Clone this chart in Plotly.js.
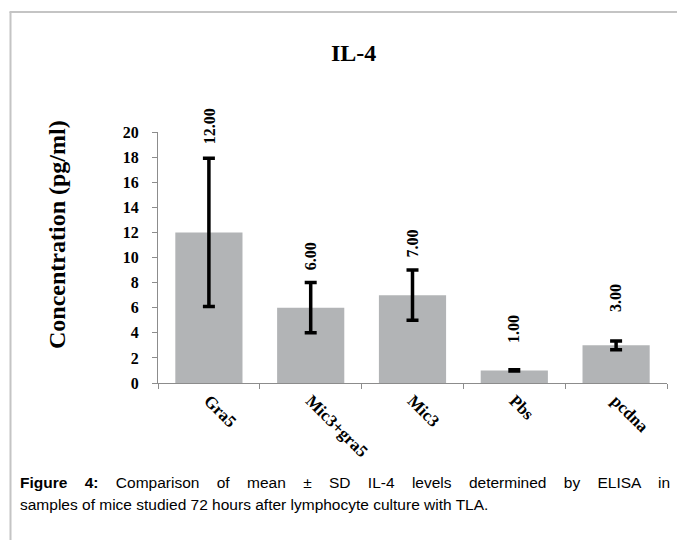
<!DOCTYPE html>
<html>
<head>
<meta charset="utf-8">
<script src="https://cdn.plot.ly/plotly-3.0.1.min.js"></script>
<style>
html,body{margin:0;padding:0;background:#fff;}
#chart{width:677px;height:540px;}
</style>
</head>
<body>
<div id="chart"></div>
<script>
// ---- data ----
const categories = ["Gra5", "Mic3+gra5", "Mic3", "Pbs", "pcdna"];
const meanValues = [12, 6, 7, 1, 3];
const sdValues = [5.9, 2, 2, 0.05, 0.35];
const valueLabels = ["12.00", "6.00", "7.00", "1.00", "3.00"];
const yTickValues = [0, 2, 4, 6, 8, 10, 12, 14, 16, 18, 20];
const chartTitle = "IL-4";
const yAxisTitle = "Concentration (pg/ml)";
const captionBold = "Figure 4:";
const captionLine1 = " Comparison of mean ± SD IL-4 levels determined by ELISA in";
const captionLine2 = "samples of mice studied 72 hours after lymphocyte culture with TLA.";

// ---- styling / layout (pixels) ----
const W = 677, H = 540;
const L = 158, R = 10, T = 132, B = 157;
const pw = W - L - R, ph = H - T - B;
const px = x => (x - L) / pw;          // page px -> paper x
const py = y => (H - B - y) / ph;      // page px -> paper y
const labelShift = [12, 10, 10, 25, 27];
const serif = "'Liberation Serif', 'Times New Roman', serif";
const sans = "'Liberation Sans', Arial, sans-serif";
const capLeft = 18, capRight = 668;

const trace = {
  type: "bar",
  x: categories,
  y: meanValues,
  marker: {color: "rgb(178,180,182)", line: {width: 0}},
  error_y: {type: "data", array: sdValues, visible: true, color: "#000", thickness: 3.5, width: 6},
  hoverinfo: "skip",
  width: 0.66
};

const annotations = categories.map((c, i) => ({
  x: c, y: meanValues[i] + sdValues[i], xref: "x", yref: "y",
  text: "<b>" + valueLabels[i] + "</b>", showarrow: false,
  textangle: -90, xanchor: "center", yanchor: "bottom", yshift: labelShift[i],
  font: {family: serif, size: 16, color: "#000"}
}));

annotations.push({
  x: px(353), y: py(53), xref: "paper", yref: "paper", text: "<b>" + chartTitle + "</b>",
  showarrow: false, xanchor: "center", yanchor: "middle",
  font: {family: serif, size: 24, color: "#000"}
});
annotations.push({
  x: px(57), y: py(235), xref: "paper", yref: "paper", text: "<b>" + yAxisTitle + "</b>",
  showarrow: false, xanchor: "center", yanchor: "middle", textangle: -90,
  font: {family: serif, size: 24, color: "#000"}
});
annotations.push({
  x: px(capLeft), y: py(482), xref: "paper", yref: "paper",
  text: "<b>" + captionBold + "</b>" + captionLine1,
  showarrow: false, xanchor: "left", yanchor: "middle", align: "left",
  font: {family: sans, size: 15.5, color: "#000"}
});
annotations.push({
  x: px(capLeft), y: py(504), xref: "paper", yref: "paper",
  text: captionLine2,
  showarrow: false, xanchor: "left", yanchor: "middle", align: "left",
  font: {family: sans, size: 15.5, color: "#000"}
});

const shapes = [
  {type: "line", xref: "paper", yref: "paper", x0: px(10.5), x1: px(10.5), y0: py(12), y1: py(545),
   line: {color: "#c4c4c4", width: 2}},
  {type: "line", xref: "paper", yref: "paper", x0: px(9.5), x1: px(690), y0: py(12), y1: py(12),
   line: {color: "#c4c4c4", width: 2}}
];

const layout = {
  width: W, height: H,
  margin: {l: L, r: R, t: T, b: B, pad: 0},
  paper_bgcolor: "#fff", plot_bgcolor: "#fff",
  showlegend: false,
  bargap: 0.34,
  xaxis: {
    type: "category", showgrid: false, zeroline: false,
    showline: true, linecolor: "#8c8c8c", linewidth: 1,
    ticks: "outside", tickson: "boundaries", ticklen: 5, tickcolor: "#8c8c8c",
    tickangle: 45, tickfont: {family: serif, size: 17, color: "#000", weight: "bold"},
    automargin: false
  },
  yaxis: {
    range: [0, 20], tickvals: yTickValues, ticktext: yTickValues.map(String),
    showgrid: false, zeroline: false,
    showline: true, linecolor: "#8c8c8c", linewidth: 1,
    ticks: "outside", ticklen: 5, tickcolor: "#8c8c8c",
    ticklabelstandoff: 10,
    tickfont: {family: serif, size: 16, color: "#000", weight: "bold"},
    automargin: false
  },
  annotations: annotations,
  shapes: shapes
};

Plotly.newPlot("chart", [trace], layout, {displayModeBar: false, staticPlot: true}).then(gd => {
  // justify the first caption line like the reference
  const texts = gd.querySelectorAll(".annotation-text");
  texts.forEach(t => {
    if (t.textContent.indexOf("Figure 4:") === 0) {
      const target = capRight - capLeft;
      const w = t.getComputedTextLength();
      const spaces = (t.textContent.match(/ /g) || []).length;
      if (spaces > 0 && w < target) {
        t.style.wordSpacing = ((target - w) / spaces) + "px";
      }
    }
  });
});
</script>
</body>
</html>
